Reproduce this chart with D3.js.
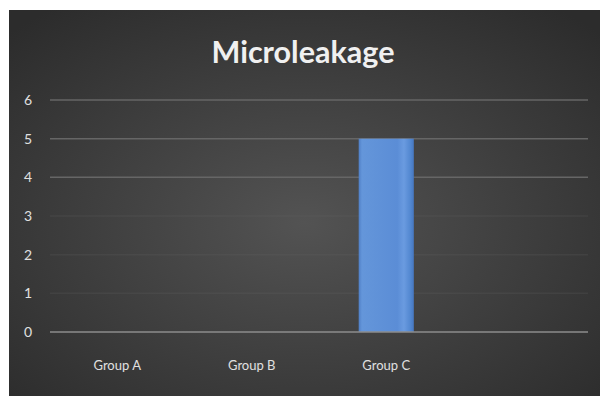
<!DOCTYPE html>
<html><head><meta charset="utf-8">
<script src="https://cdn.jsdelivr.net/npm/d3@7"></script>
<style>html,body{margin:0;padding:0;background:#fff;}svg{display:block;}</style>
</head><body>
<script>
const categories = ["Group A", "Group B", "Group C", ""];
const values = [0, 0, 5, 0];
const yTicks = [0, 1, 2, 3, 4, 5, 6];
const title = "Microleakage";

const W = 600, H = 396;
const svg = d3.select("body").append("svg").attr("width", W).attr("height", H);
const defs = svg.append("defs");
const rg = defs.append("radialGradient").attr("id", "bg").attr("cx", "50%").attr("cy", "55%").attr("r", "70%");
rg.append("stop").attr("offset", "0%").attr("stop-color", "#535353");
rg.append("stop").attr("offset", "100%").attr("stop-color", "#2c2c2c");
const bg = defs.append("linearGradient").attr("id", "bar").attr("x1", "0").attr("x2", "1").attr("y1", "0").attr("y2", "0");
bg.append("stop").attr("offset", "0%").attr("stop-color", "#4f7fc6");
bg.append("stop").attr("offset", "6%").attr("stop-color", "#6496da");
bg.append("stop").attr("offset", "70%").attr("stop-color", "#5b8dd6");
bg.append("stop").attr("offset", "82%").attr("stop-color", "#6a9be0");
bg.append("stop").attr("offset", "94%").attr("stop-color", "#5287d0");
bg.append("stop").attr("offset", "100%").attr("stop-color", "#4677c0");

svg.append("rect").attr("x", 9).attr("y", 10).attr("width", 591).attr("height", 386).attr("fill", "url(#bg)");

const x = d3.scaleBand().domain(categories).range([50, 588]).paddingInner(0.59).paddingOuter(0.295);
const y = d3.scaleLinear().domain([0, 6]).range([332, 100]);

// gridlines
svg.append("g").selectAll("line").data(yTicks.filter(d => d > 0)).join("line")
  .attr("x1", 50).attr("x2", 588).attr("y1", d => y(d)).attr("y2", d => y(d))
  .attr("stroke", "#666").attr("stroke-width", 1.5)
  .attr("opacity", d => d >= 4 ? 1 : 0.2);

// bars
svg.append("g").selectAll("rect").data(categories.map((c, i) => ({c, v: values[i]})).filter(d => d.v > 0)).join("rect")
  .attr("x", d => x(d.c)).attr("y", d => y(d.v))
  .attr("width", x.bandwidth()).attr("height", d => y(0) - y(d.v))
  .attr("fill", "url(#bar)");

// axis line
svg.append("line").attr("x1", 50).attr("x2", 588).attr("y1", y(0)).attr("y2", y(0))
  .attr("stroke", "#8c8c8c").attr("stroke-width", 1.5);

// y tick labels
const yAxis = d3.axisLeft(y).tickValues(yTicks).tickFormat(d3.format("d")).tickSize(0).tickPadding(0);
const ya = svg.append("g").attr("transform", "translate(28,0)").call(yAxis);
ya.select(".domain").remove();
ya.selectAll("text").attr("fill", "#e0e0e0").attr("font-family", "Lato, 'Open Sans', sans-serif")
  .attr("font-size", 14).attr("text-anchor", "middle");

// x labels
const xAxis = d3.axisBottom(x).tickSize(0).tickPadding(0);
const xa = svg.append("g").attr("transform", "translate(0,361)").call(xAxis);
xa.select(".domain").remove();
xa.selectAll("text").attr("fill", "#e0e0e0").attr("font-family", "'Liberation Sans Narrow', Lato, sans-serif")
  .attr("font-size", 13);

// title
svg.append("text").attr("x", 303).attr("y", 63).attr("text-anchor", "middle")
  .attr("font-family", "Lato, 'Open Sans', sans-serif").attr("font-size", 30).attr("font-weight", 700)
  .attr("fill", "#f0f0f0").attr("textLength", 183).attr("lengthAdjust", "spacingAndGlyphs")
  .text(title);
</script>
</body></html>
